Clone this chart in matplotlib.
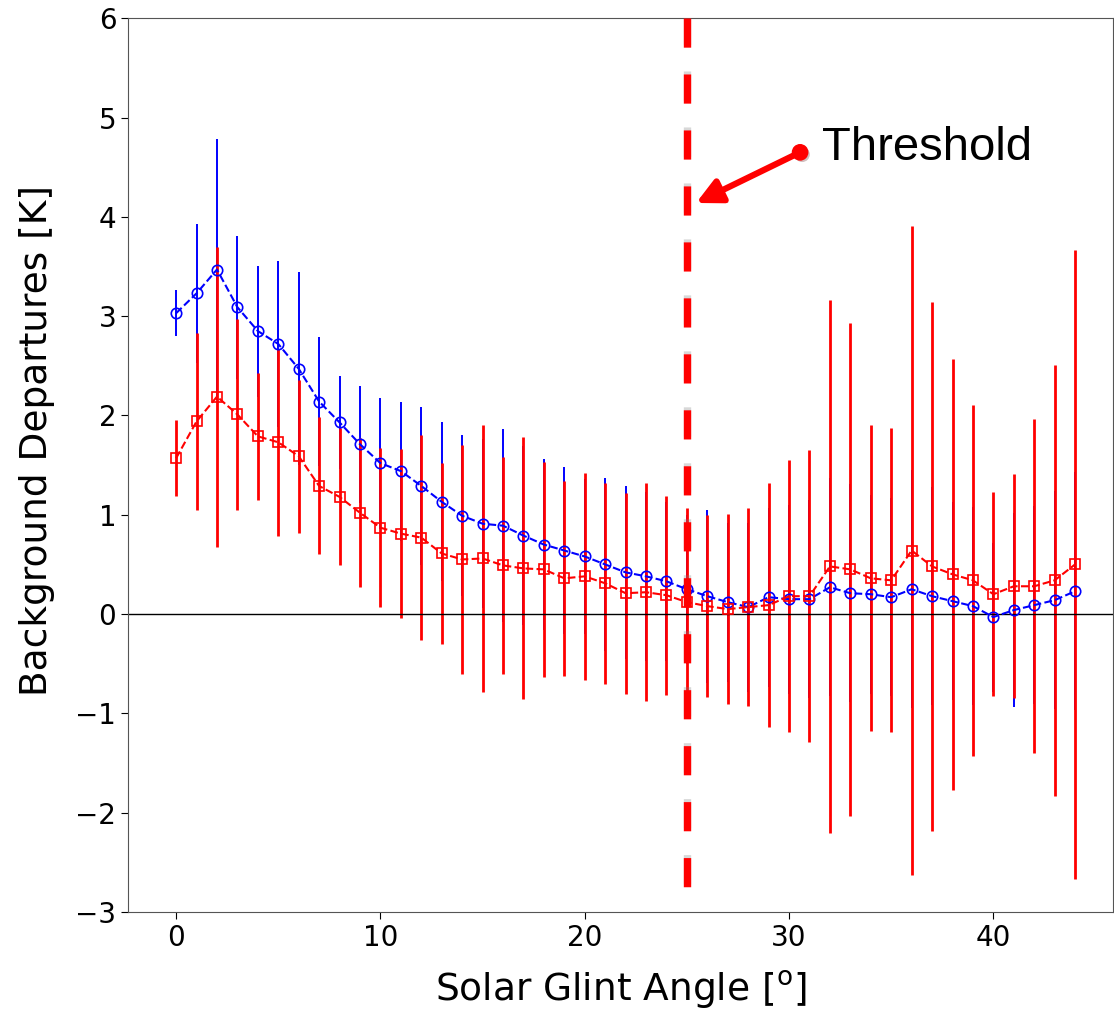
import matplotlib
matplotlib.use("Agg")
import matplotlib.pyplot as plt
import matplotlib.patheffects as pe
from matplotlib.transforms import offset_copy
import numpy as np

# solar glint angle bins (degrees)
angle = np.arange(0, 45)

# blue series (circles): mean departure and error half-width
blue_mean = [3.03, 3.23, 3.47, 3.09, 2.85, 2.72, 2.47, 2.14, 1.93, 1.71,
             1.52, 1.44, 1.29, 1.13, 0.99, 0.91, 0.89, 0.79, 0.70, 0.64,
             0.58, 0.50, 0.42, 0.38, 0.33, 0.25, 0.18, 0.12, 0.07, 0.17,
             0.15, 0.15, 0.27, 0.21, 0.20, 0.17, 0.25, 0.18, 0.13, 0.08,
             -0.03, 0.04, 0.09, 0.14, 0.23]
blue_err = [0.23, 0.70, 1.31, 0.72, 0.66, 0.84, 0.97, 0.65, 0.47, 0.59,
            0.66, 0.70, 0.80, 0.80, 0.81, 0.85, 0.97, 0.90, 0.86, 0.84,
            0.78, 0.87, 0.87, 0.85, 0.80, 0.75, 0.87, 0.80, 0.85, 0.90,
            0.95, 1.00, 1.10, 1.10, 1.00, 1.00, 1.20, 1.10, 1.00, 1.00,
            0.75, 0.98, 1.00, 1.10, 1.20]

# red series (squares)
red_mean = [1.57, 1.94, 2.19, 2.01, 1.79, 1.73, 1.59, 1.29, 1.18, 1.02,
            0.87, 0.81, 0.77, 0.61, 0.55, 0.56, 0.49, 0.46, 0.45, 0.36,
            0.38, 0.31, 0.21, 0.22, 0.19, 0.12, 0.08, 0.05, 0.07, 0.09,
            0.18, 0.18, 0.48, 0.45, 0.36, 0.34, 0.64, 0.48, 0.40, 0.34,
            0.20, 0.28, 0.28, 0.34, 0.50]
red_err = [0.38, 0.89, 1.51, 0.96, 0.64, 0.94, 0.77, 0.69, 0.69, 0.75,
           0.80, 0.85, 1.03, 0.91, 1.15, 1.34, 1.09, 1.32, 1.08, 0.98,
           1.04, 1.01, 1.01, 1.10, 1.00, 0.95, 0.92, 0.96, 1.00, 1.23,
           1.37, 1.47, 2.68, 2.48, 1.54, 1.53, 3.27, 2.66, 2.17, 1.77,
           1.03, 1.13, 1.68, 2.17, 3.17]

threshold = 25
ylims = (-3, 6)

fig = plt.figure(figsize=(11.14, 10.16), dpi=100)
ax = fig.add_axes([0.115, 0.1024, 0.884, 0.8796])

ax.errorbar(angle, blue_mean, yerr=blue_err, color='blue', ls='--', lw=1.5,
            marker='o', ms=7.5, mfc='none', mew=1.2, elinewidth=1.4, capsize=0)
ax.errorbar(angle, red_mean, yerr=red_err, color='red', ls='--', lw=1.5,
            marker='s', ms=7.5, mfc='none', mew=1.2, elinewidth=2.0, capsize=0)

ax.axhline(0, color='black', lw=1)

# threshold line, dash pattern in points (about 29px on / 27px off at 100 dpi)
thr_ls = (0, (21 / 5.3, 19.3 / 5.3))
shadow_tr = offset_copy(ax.transData, fig=fig, x=0, y=2.5, units='points')
ax.plot([threshold, threshold], [ylims[1], ylims[0]], color='gray', alpha=0.3,
        lw=5.3, linestyle=thr_ls, dash_capstyle='butt', transform=shadow_tr,
        zorder=4)
ax.plot([threshold, threshold], [ylims[1], ylims[0]], color='red', lw=5.3,
        linestyle=thr_ls, dash_capstyle='butt', zorder=5)

ax.set_xlim(-2.35, 45.85)
ax.set_ylim(*ylims)
ax.set_xticks([0, 10, 20, 30, 40])
ax.tick_params(labelsize=20, length=5)
for s in ax.spines.values():
    s.set_color('#555555')

ax.set_xlabel('Solar Glint Angle [$^\\mathrm{o}$]', fontsize=27, labelpad=12)
ax.set_ylabel('Background Departures [K]', fontsize=27)
ax.yaxis.set_label_coords(-0.074, 0.527)

# annotation arrow and label
tail = (30.54, 4.65)
tip = (25.45, 4.14)
ax.annotate('', xy=tip, xytext=tail,
            arrowprops=dict(arrowstyle='-|>,head_length=1.5,head_width=0.75',
                            color='red', lw=4.5, shrinkA=0, shrinkB=0,
                            path_effects=[pe.withSimplePatchShadow(offset=(2, -2),
                                                                   alpha=0.3)]),
            zorder=6)
ax.plot(*tail, 'o', color='red', ms=11, zorder=7,
        path_effects=[pe.withSimplePatchShadow(offset=(1.5, -1.5), alpha=0.25)])
ax.text(31.6, 4.69, 'Threshold', fontsize=34, family='Liberation Sans',
        va='center', ha='left', zorder=7)

fig.savefig('out.png', dpi=100)
